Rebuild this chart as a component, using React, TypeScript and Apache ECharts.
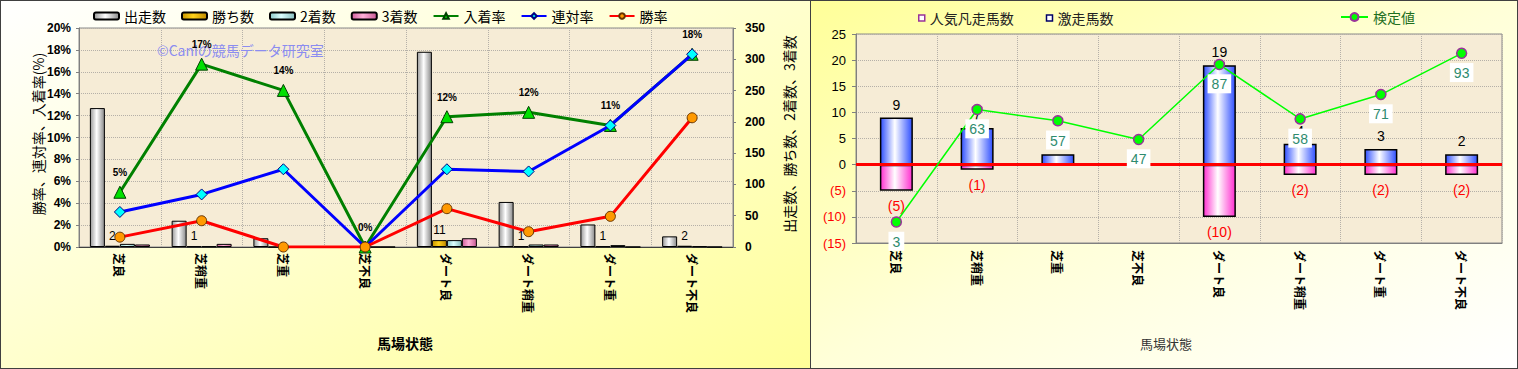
import React, { useEffect, useRef } from "react";
import * as echarts from "echarts";

const categories = ["芝良", "芝稍重", "芝重", "芝不良", "ダート良", "ダート稍重", "ダート重", "ダート不良"];

// left panel: counts (right axis)
const runs = [222, 42, 14, 1, 312, 72, 36, 17];
const wins = [2, 1, 0, 0, 11, 1, 1, 2];
const seconds = [5, 1, 1, 0, 11, 4, 3, 1];
const thirds = [4, 5, 1, 0, 14, 4, 0, 0];
// left panel: rates in % (left axis)
const placeRate = [5.0, 16.7, 14.3, 0, 11.9, 12.3, 11.1, 17.6];
const quinellaRate = [3.2, 4.8, 7.1, 0, 7.1, 6.9, 11.1, 17.6];
const winRate = [0.9, 2.4, 0, 0, 3.5, 1.4, 2.8, 11.8];

// right panel
const longshotCounts = [9, 7, 2, 0, 19, 4, 3, 2]; // 激走馬数
const favFailCounts = [-5, -1, 0, 0, -10, -2, -2, -2]; // 人気凡走馬数
const testValues = [3, 63, 57, 47, 87, 58, 71, 93]; // 検定値

const FONT = "'Liberation Sans', 'Noto Sans CJK JP', sans-serif";
const JP = "'Noto Sans CJK JP', 'Liberation Sans', sans-serif";

const hGrad = (edgeL: string, mid: string, edgeR: string) =>
  new echarts.graphic.LinearGradient(0, 0, 1, 0, [
    { offset: 0, color: edgeL },
    { offset: 0.45, color: mid },
    { offset: 1, color: edgeR },
  ]);

export default function App() {
  const ref = useRef<HTMLDivElement>(null);

  useEffect(() => {
    if (!ref.current) return;
    const chart = echarts.init(ref.current, null, { renderer: "svg" });

    const gridLine = { show: true, lineStyle: { color: "#b5b0a8", type: "dotted" as const, width: 1 } };
    const catLabel = {
      rotate: -90,
      fontSize: 12,
      fontWeight: "bold" as const,
      color: "#000",
      fontFamily: JP,
      margin: 6,
    };

    const option: any = {
      animation: false,
      grid: [
        { left: 79, top: 28, width: 654, height: 219, show: true, backgroundColor: "#f6ecd6", borderColor: "#8a8a8a", borderWidth: 1 },
        { left: 856, top: 34, width: 646, height: 209, show: true, backgroundColor: "#f6ecd6", borderColor: "#8a8a8a", borderWidth: 1 },
      ],
      legend: [
        {
          left: 93,
          top: 9,
          padding: 0,
          itemWidth: 25,
          itemHeight: 7,
          itemGap: 15,
          textStyle: { fontSize: 14, color: "#000", fontFamily: JP },
          data: ["出走数", "勝ち数", "2着数", "3着数", "入着率", "連対率", "勝率"],
        },
        {
          left: 918,
          top: 11,
          padding: 0,
          itemWidth: 6,
          itemHeight: 6,
          itemGap: 32,
          textStyle: { fontSize: 14, color: "#222", fontFamily: JP },
          data: [
            { name: "人気凡走馬数", icon: "rect", itemStyle: { color: "#fff", borderColor: "#993399", borderWidth: 1.5 } },
            { name: "激走馬数", icon: "rect", itemStyle: { color: "#fff", borderColor: "#000066", borderWidth: 1.5 } },
          ],
        },
        {
          left: 1340,
          top: 10,
          padding: 0,
          itemWidth: 27,
          itemHeight: 10,
          textStyle: { fontSize: 14, color: "#1f6f1f", fontFamily: JP },
          data: ["検定値"],
        },
      ],
      xAxis: [
        {
          type: "category",
          gridIndex: 0,
          data: categories,
          axisLine: { lineStyle: { color: "#404040" } },
          axisTick: { show: false },
          axisLabel: catLabel,
          splitLine: { ...gridLine, interval: 0 },
        },
        {
          type: "category",
          gridIndex: 1,
          data: categories,
          axisLine: { onZero: false, lineStyle: { color: "#808080" } },
          axisTick: { show: false },
          axisLabel: { ...catLabel, margin: 7 },
          splitLine: { ...gridLine, interval: 0 },
        },
      ],
      yAxis: [
        {
          type: "value",
          gridIndex: 0,
          min: 0,
          max: 20,
          interval: 2,
          position: "left",
          axisLine: { show: true, lineStyle: { color: "#808080" } },
          axisTick: { show: true, length: 3 },
          axisLabel: { formatter: "{value}%", fontSize: 12, fontWeight: "bold", color: "#000", fontFamily: FONT, margin: 8 },
          splitLine: gridLine,
        },
        {
          type: "value",
          gridIndex: 0,
          min: 0,
          max: 350,
          interval: 50,
          position: "right",
          axisLine: { show: true, lineStyle: { color: "#808080" } },
          axisTick: { show: true, length: 3 },
          axisLabel: { fontSize: 12, fontWeight: "bold", color: "#000", fontFamily: FONT, margin: 12 },
          splitLine: { show: false },
        },
        {
          type: "value",
          gridIndex: 1,
          min: -15,
          max: 25,
          interval: 5,
          position: "left",
          axisLine: { show: true, lineStyle: { color: "#808080" } },
          axisTick: { show: true, length: 4 },
          axisLabel: {
            fontSize: 13,
            fontFamily: FONT,
            margin: 10,
            color: (v: any) => (Number(v) < 0 ? "#ff0000" : "#000"),
            formatter: (v: number) => (v < 0 ? `(${-v})` : `${v}`),
          },
          splitLine: gridLine,
        },
        {
          type: "value",
          gridIndex: 1,
          min: -8.2,
          max: 103.3,
          show: false,
          splitLine: { show: false },
        },
      ],
      series: [
        {
          name: "出走数",
          type: "bar",
          xAxisIndex: 0,
          yAxisIndex: 1,
          data: runs,
          barWidth: 15,
          barGap: "0%",
          itemStyle: { color: hGrad("#9a9a9a", "#ffffff", "#8a8a8a"), borderColor: "#000", borderWidth: 1 },
        },
        {
          name: "勝ち数",
          type: "bar",
          xAxisIndex: 0,
          yAxisIndex: 1,
          data: wins,
          barWidth: 15,
          barGap: "0%",
          itemStyle: { color: hGrad("#c89600", "#ffd21a", "#c08a00"), borderColor: "#000", borderWidth: 1 },
          label: {
            show: true,
            position: "top",
            distance: 4,
            fontSize: 12,
            color: "#000",
            fontFamily: FONT,
            formatter: (p: any) => (p.value > 0 ? `${p.value}` : ""),
          },
        },
        {
          name: "2着数",
          type: "bar",
          xAxisIndex: 0,
          yAxisIndex: 1,
          data: seconds,
          barWidth: 15,
          barGap: "0%",
          itemStyle: { color: hGrad("#8cc8c8", "#dcffff", "#86bcbc"), borderColor: "#000", borderWidth: 1 },
        },
        {
          name: "3着数",
          type: "bar",
          xAxisIndex: 0,
          yAxisIndex: 1,
          data: thirds,
          barWidth: 15,
          barGap: "0%",
          itemStyle: { color: hGrad("#d0609c", "#ffb0d8", "#c85a94"), borderColor: "#000", borderWidth: 1 },
        },
        {
          name: "入着率",
          type: "line",
          xAxisIndex: 0,
          yAxisIndex: 0,
          data: placeRate,
          z: 5,
          lineStyle: { color: "#008000", width: 3 },
          symbol: "triangle",
          symbolSize: 12,
          itemStyle: { color: "#00e000", borderColor: "#004000", borderWidth: 1 },
          label: {
            show: true,
            position: "top",
            distance: 8,
            fontSize: 10,
            fontWeight: "bold",
            color: "#000",
            fontFamily: FONT,
            formatter: (p: any) => `${Math.round(p.value)}%`,
          },
        },
        {
          name: "連対率",
          type: "line",
          xAxisIndex: 0,
          yAxisIndex: 0,
          data: quinellaRate,
          z: 6,
          lineStyle: { color: "#0000ff", width: 3 },
          symbol: "diamond",
          symbolSize: 11,
          itemStyle: { color: "#00ffff", borderColor: "#000080", borderWidth: 1 },
        },
        {
          name: "勝率",
          type: "line",
          xAxisIndex: 0,
          yAxisIndex: 0,
          data: winRate,
          z: 7,
          lineStyle: { color: "#ff0000", width: 3 },
          symbol: "circle",
          symbolSize: 10,
          itemStyle: { color: "#ff9900", borderColor: "#663300", borderWidth: 1 },
        },
        {
          name: "激走馬数",
          type: "bar",
          xAxisIndex: 1,
          yAxisIndex: 2,
          data: longshotCounts,
          barWidth: 33,
          barGap: "-100%",
          z: 2,
          itemStyle: { color: hGrad("#3050ff", "#ffffff", "#3050ff"), borderColor: "#000", borderWidth: 1.5 },
          label: {
            show: true,
            position: "top",
            distance: 6,
            fontSize: 14,
            color: "#000",
            fontFamily: FONT,
            formatter: (p: any) => (p.value > 0 ? `${p.value}` : ""),
          },
          markLine: {
            silent: true,
            symbol: "none",
            label: { show: false },
            lineStyle: { color: "#ff0000", width: 3, type: "solid" },
            data: [{ yAxis: 0 }],
            z: 3,
          },
        },
        {
          name: "人気凡走馬数",
          type: "bar",
          xAxisIndex: 1,
          yAxisIndex: 2,
          data: favFailCounts,
          barWidth: 33,
          barGap: "-100%",
          z: 2,
          itemStyle: { color: hGrad("#ff30d0", "#ffffff", "#ff30d0"), borderColor: "#000", borderWidth: 1.5 },
          label: {
            show: true,
            position: "bottom",
            distance: 8,
            fontSize: 14,
            color: "#ff0000",
            fontFamily: FONT,
            formatter: (p: any) => (p.value < 0 ? `(${-p.value})` : ""),
          },
        },
        {
          name: "検定値",
          type: "line",
          xAxisIndex: 1,
          yAxisIndex: 3,
          data: testValues,
          z: 10,
          lineStyle: { color: "#00ff00", width: 1.5 },
          symbol: "circle",
          symbolSize: 10,
          itemStyle: { color: "#00ff00", borderColor: "#993399", borderWidth: 1.5 },
          label: {
            show: true,
            position: "bottom",
            distance: 4,
            fontSize: 14,
            color: "#2e8b6e",
            fontFamily: FONT,
            backgroundColor: "#ffffff",
            padding: [3, 4, 2, 4],
          },
        },
      ],
      graphic: [
        {
          type: "text",
          left: 157,
          top: 43,
          z: 1,
          style: { text: "©Caniの競馬データ研究室", fontSize: 14, fill: "#8c8cf0", fontFamily: JP },
        },
        {
          type: "text",
          x: 38,
          y: 134,
          rotation: Math.PI / 2,
          style: { text: "勝率、連対率、入着率(%)", fontSize: 14, fill: "#000", fontFamily: JP, align: "center", verticalAlign: "middle" },
        },
        {
          type: "text",
          x: 789,
          y: 134,
          rotation: Math.PI / 2,
          style: { text: "出走数、勝ち数、2着数、3着数", fontSize: 14, fill: "#000", fontFamily: JP, align: "center", verticalAlign: "middle" },
        },
        {
          type: "text",
          x: 405,
          y: 343,
          style: { text: "馬場状態", fontSize: 14, fontWeight: "bold", fill: "#000", fontFamily: JP, align: "center", verticalAlign: "middle" },
        },
        {
          type: "text",
          x: 1166,
          y: 343,
          style: { text: "馬場状態", fontSize: 13, fill: "#333", fontFamily: JP, align: "center", verticalAlign: "middle" },
        },
      ],
    };

    chart.setOption(option);
    return () => chart.dispose();
  }, []);

  return (
    <div style={{ position: "fixed", left: 0, top: 0, width: 1518, height: 369, background: "#fff" }}>
      <div
        style={{
          position: "absolute",
          left: 0,
          top: 0,
          width: 811,
          height: 369,
          boxSizing: "border-box",
          border: "1.5px solid #404040",
          background: "linear-gradient(to bottom right, #ffffff 0%, #ffffc8 55%, #ffff99 100%)",
        }}
      />
      <div
        style={{
          position: "absolute",
          left: 810,
          top: 0,
          width: 708,
          height: 369,
          boxSizing: "border-box",
          border: "1.5px solid #404040",
          background: "linear-gradient(to bottom right, #ffff99 0%, #ffffd8 50%, #ffffff 100%)",
        }}
      />
      <div ref={ref} style={{ position: "absolute", left: 0, top: 0, width: 1518, height: 369 }} />
    </div>
  );
}
